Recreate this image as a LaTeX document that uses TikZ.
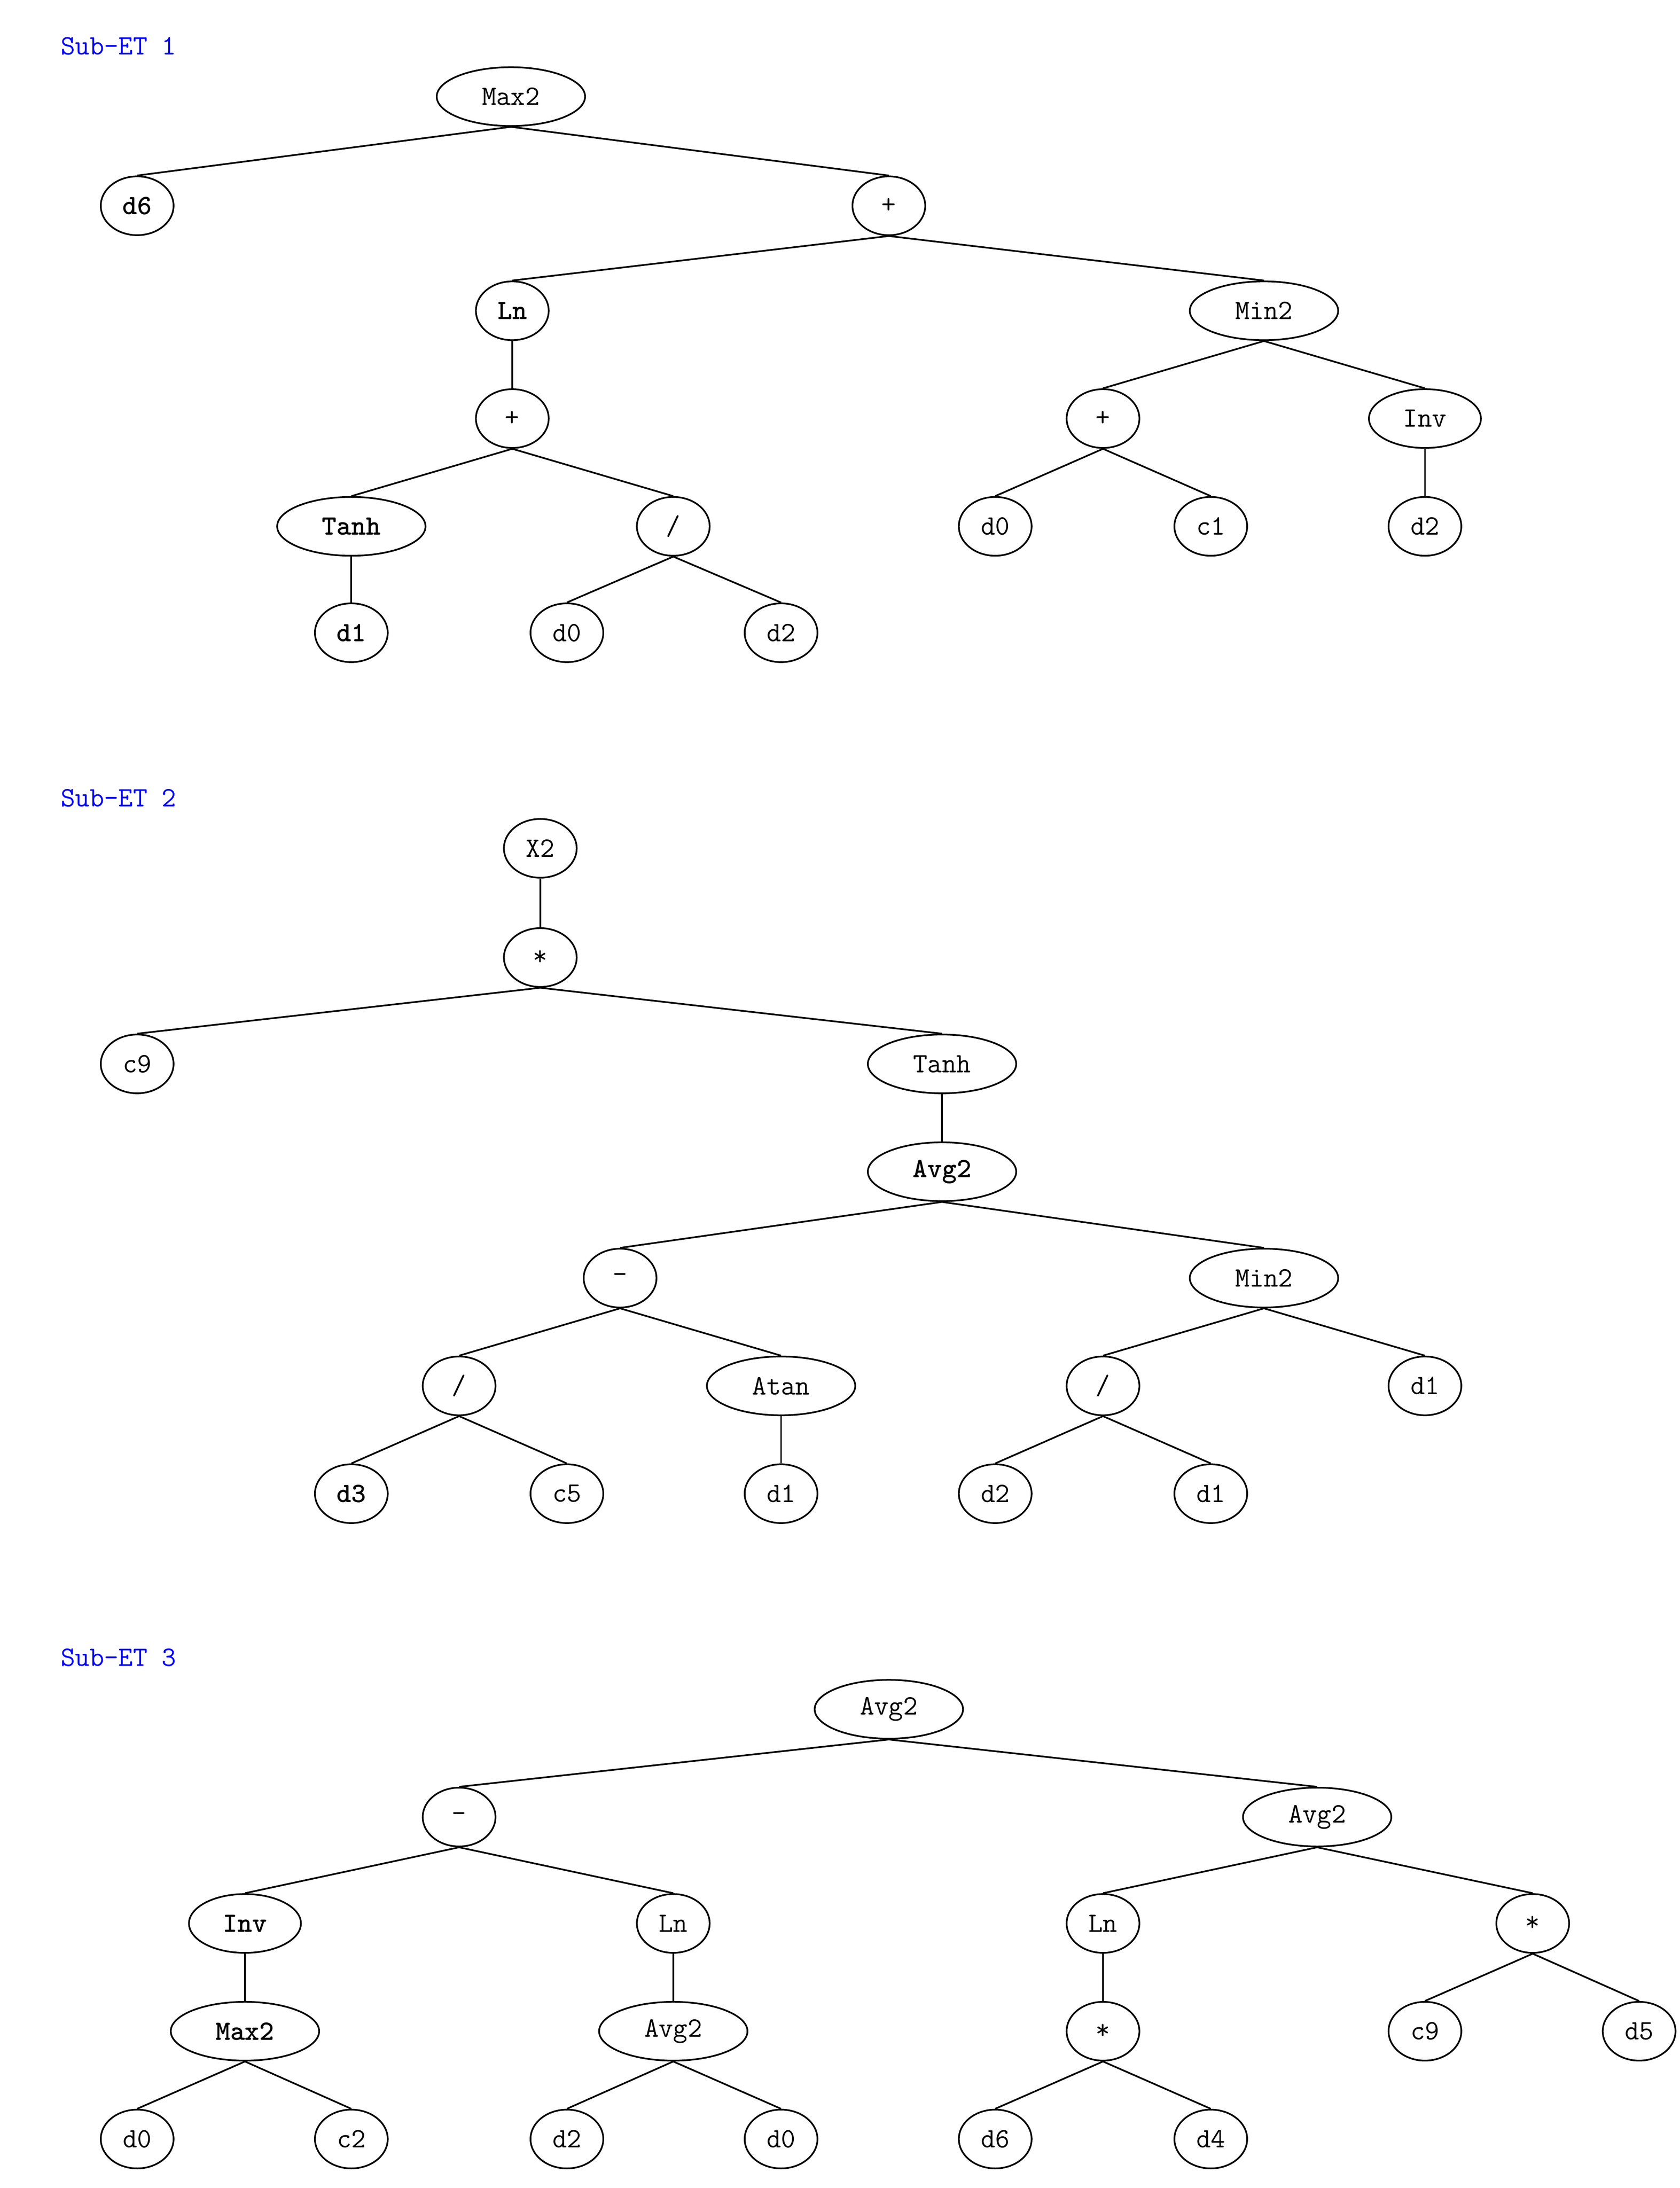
\documentclass[tikz,border=0pt]{standalone}
\usepackage{fontspec}
\usetikzlibrary{shapes.geometric}
\begin{document}
\begin{tikzpicture}[x=1pt,y=-1pt,
 nd/.style={ellipse,draw,line width=1.2pt,inner sep=0pt,minimum height=42,minimum width=52,font=\fontsize{20}{22}\ttfamily},
 md/.style={nd,minimum width=80},
 ld/.style={nd,minimum width=106},
 b/.style={font=\fontsize{20}{22}\ttfamily\bfseries},
 ttl/.style={anchor=west,text=blue,font=\fontsize{20}{22}\ttfamily},
 e/.style={line width=1.2pt}]
\useasboundingbox (0,0) rectangle (1200,1563);
% ET1
\node[ttl] (t1) at (40,33) {Sub-ET 1};
\node[ld] (a1) at (365,69) {Max2};
\node[nd,b] (a2) at (98,147) {d6};
\node[nd] (a3) at (635,147) {+};
\node[nd,b] (a4) at (366,222) {Ln};
\node[ld] (a5) at (903,222) {Min2};
\node[nd] (a6) at (366,299) {+};
\node[nd] (a7) at (788,299) {+};
\node[md] (a8) at (1018,299) {Inv};
\node[ld,b] (a9) at (251,376) {Tanh};
\node[nd] (a10) at (481,376) {/};
\node[nd] (a11) at (711,376) {d0};
\node[nd] (a12) at (865,376) {c1};
\node[nd] (a13) at (1018,376) {d2};
\node[nd,b] (a14) at (251,452) {d1};
\node[nd] (a15) at (405,452) {d0};
\node[nd] (a16) at (558,452) {d2};
\foreach \p/\c in {a1/a2,a1/a3,a3/a4,a3/a5,a4/a6,a5/a7,a5/a8,a6/a9,a6/a10,a7/a11,a7/a12,a8/a13,a9/a14,a10/a15,a10/a16}
 \draw[e] (\p.south) -- (\c.north);
% ET2
\node[ttl] (t2) at (40,570) {Sub-ET 2};
\node[nd] (b1) at (386,606) {X2};
\node[nd] (b2) at (386,684) {*};
\node[nd] (b3) at (98,760) {c9};
\node[ld] (b4) at (673,760) {Tanh};
\node[ld,b] (b5) at (673,837) {Avg2};
\node[nd] (b6) at (443,913) {-};
\node[ld] (b7) at (903,913) {Min2};
\node[nd] (b8) at (328,990) {/};
\node[ld] (b9) at (558,990) {Atan};
\node[nd] (b10) at (788,990) {/};
\node[nd] (b11) at (1018,990) {d1};
\node[nd,b] (b12) at (251,1067) {d3};
\node[nd] (b13) at (405,1067) {c5};
\node[nd] (b14) at (558,1067) {d1};
\node[nd] (b15) at (711,1067) {d2};
\node[nd] (b16) at (865,1067) {d1};
\foreach \p/\c in {b1/b2,b2/b3,b2/b4,b4/b5,b5/b6,b5/b7,b6/b8,b6/b9,b7/b10,b7/b11,b8/b12,b8/b13,b9/b14,b10/b15,b10/b16}
 \draw[e] (\p.south) -- (\c.north);
% ET3
\node[ttl] (t3) at (40,1184) {Sub-ET 3};
\node[ld] (c1) at (635,1221) {Avg2};
\node[nd] (c2) at (328,1298) {-};
\node[ld] (c3) at (941,1298) {Avg2};
\node[md,b] (c4) at (175,1374) {Inv};
\node[nd] (c5) at (481,1374) {Ln};
\node[nd] (c6) at (788,1374) {Ln};
\node[nd] (c7) at (1095,1374) {*};
\node[ld,b] (c8) at (175,1451) {Max2};
\node[ld] (c9) at (481,1451) {Avg2};
\node[nd] (c10) at (788,1451) {*};
\node[nd] (c11) at (1018,1451) {c9};
\node[nd] (c12) at (1171,1451) {d5};
\node[nd] (c13) at (98,1528) {d0};
\node[nd] (c14) at (251,1528) {c2};
\node[nd] (c15) at (405,1528) {d2};
\node[nd] (c16) at (558,1528) {d0};
\node[nd] (c17) at (711,1528) {d6};
\node[nd] (c18) at (865,1528) {d4};
\foreach \p/\c in {c1/c2,c1/c3,c2/c4,c2/c5,c3/c6,c3/c7,c4/c8,c5/c9,c6/c10,c7/c11,c7/c12,c8/c13,c8/c14,c9/c15,c9/c16,c10/c17,c10/c18}
 \draw[e] (\p.south) -- (\c.north);
\end{tikzpicture}
\end{document}
